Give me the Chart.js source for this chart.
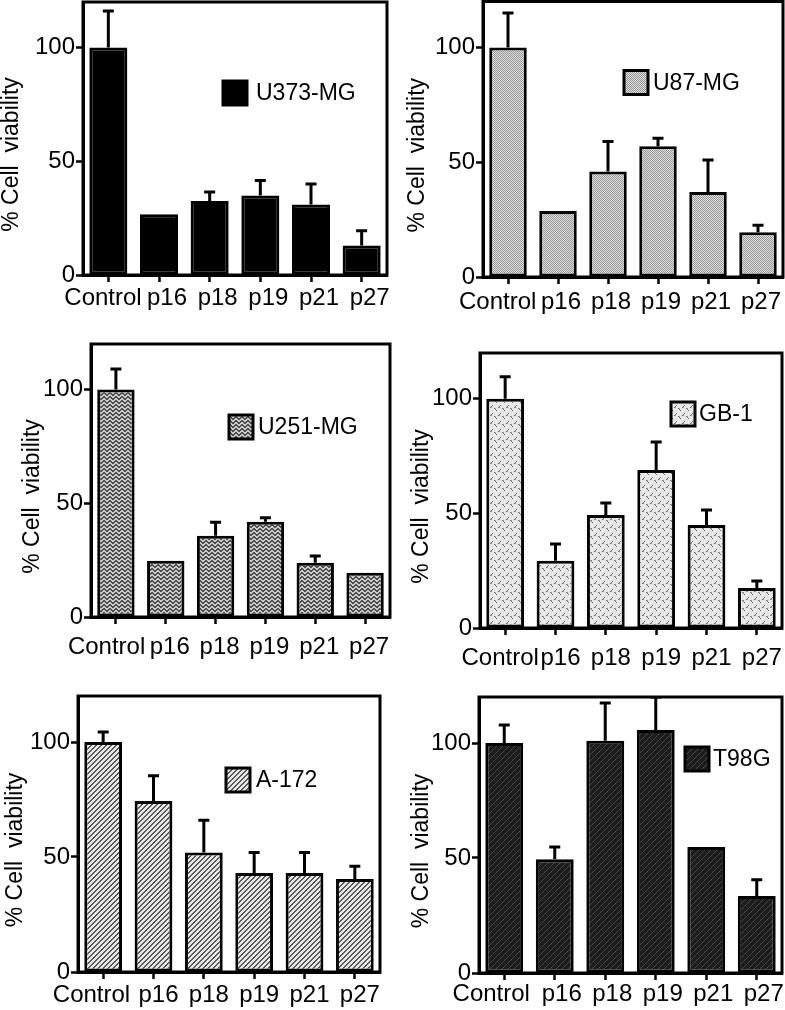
<!DOCTYPE html>
<html>
<head>
<meta charset="utf-8">
<script src="https://cdn.jsdelivr.net/npm/chart.js@4.4.1/dist/chart.umd.min.js"></script>
<style>
  body { margin: 0; background: #fff; width: 785px; height: 1010px; position: relative; overflow: hidden; }
  canvas { position: absolute; }
</style>
</head>
<body>
<canvas id="c1" width="390" height="320" style="left:0;top:0"></canvas>
<canvas id="c2" width="395" height="320" style="left:390px;top:0"></canvas>
<canvas id="c3" width="392" height="345" style="left:0;top:320px"></canvas>
<canvas id="c4" width="395" height="350" style="left:390px;top:320px"></canvas>
<canvas id="c5" width="390" height="350" style="left:0;top:660px"></canvas>
<canvas id="c6" width="395" height="350" style="left:390px;top:660px"></canvas>
<script>
// data (mean and SD, % of control)
const categories = ['Control', 'p16', 'p18', 'p19', 'p21', 'p27'];
const yTitle = '% Cell  viability';

const u373Values = [100, 26.7, 32.5, 35, 31, 13];
const u373Sd     = [16, null, 4, 6.5, 9, 6.5];
const u87Values  = [100, 28.7, 46, 57, 37, 19.5];
const u87Sd      = [15, null, 13, 3.4, 14, 3];
const u251Values = [100, 24.7, 35.7, 41.9, 23.8, 19.4];
const u251Sd     = [9, null, 6, 1.7, 3, null];
const gb1Values  = [100, 29.3, 49.3, 69, 45, 17.5];
const gb1Sd      = [9.6, 7.4, 5.3, 12.2, 6.5, 3];
const a172Values = [100, 74.3, 52, 43, 43, 40.4];
const a172Sd     = [4.3, 11, 14, 9, 9, 5.6];
const t98gValues = [100, 49.5, 101, 105.6, 54.8, 33.5];
const t98gSd     = [7.8, 5.3, 16.4, 14.4, null, 7];

const FONT = '"Liberation Sans", Arial, Helvetica, sans-serif';

// fill patterns
function tile(w, h, draw) {
    const c = document.createElement('canvas');
    c.width = w; c.height = h;
    const g = c.getContext('2d');
    draw(g);
    return g.createPattern(c, 'repeat');
}
const dots = tile(2, 2, g => {
    g.fillStyle = '#dedede'; g.fillRect(0, 0, 2, 2);
    g.fillStyle = '#969696'; g.fillRect(0, 0, 1, 1); g.fillRect(1, 1, 1, 1);
});
const waves = tile(6, 4, g => {
    g.fillStyle = '#cacaca'; g.fillRect(0, 0, 6, 4);
    g.fillStyle = '#4e4e4e';
    [1, 0, 0, 1, 2, 2].forEach((y, x) => g.fillRect(x, y, 1, 2));
});
const dashes = tile(8, 8, g => {
    g.fillStyle = '#e8e8e8'; g.fillRect(0, 0, 8, 8);
    g.fillStyle = '#6e6e6e';
    g.fillRect(0, 0, 1, 1); g.fillRect(1, 1, 1, 1); g.fillRect(2, 2, 1, 1);
    g.fillRect(4, 7, 1, 1); g.fillRect(5, 6, 1, 1); g.fillRect(6, 5, 1, 1);
    g.fillStyle = '#a8a8a8';
    g.fillRect(1, 0, 1, 1); g.fillRect(5, 7, 1, 1);
});
const hatch = tile(5, 5, g => {
    g.fillStyle = '#e8e8e8'; g.fillRect(0, 0, 5, 5);
    g.fillStyle = '#5a5a5a';
    for (let x = 0; x < 5; x++) for (let y = 0; y < 5; y++)
        if ((x + y) % 5 < 2) g.fillRect(x, y, 1, 1);
});
const darkHatch = tile(6, 6, g => {
    g.fillStyle = '#1c1c1c'; g.fillRect(0, 0, 6, 6);
    g.fillStyle = '#474747';
    for (let x = 0; x < 6; x++) for (let y = 0; y < 6; y++)
        if ((x + y) % 6 === 0) g.fillRect(x, y, 1, 1);
});

// T-shaped error bars (upper SD only)
const errorBars = {
    id: 'errorBars',
    afterDatasetsDraw(chart) {
        const {ctx, chartArea} = chart;
        const ds = chart.data.datasets[0];
        const y = chart.scales.y;
        ctx.save();
        ctx.beginPath();
        ctx.rect(chartArea.left, chartArea.top, chartArea.right - chartArea.left, chartArea.bottom - chartArea.top);
        ctx.clip();
        ctx.strokeStyle = '#000';
        ctx.lineWidth = 3;
        chart.getDatasetMeta(0).data.forEach((bar, i) => {
            if (ds.sd[i] == null) return;
            const top = y.getPixelForValue(ds.data[i] + ds.sd[i]);
            ctx.beginPath();
            ctx.moveTo(bar.x, bar.y);
            ctx.lineTo(bar.x, top);
            ctx.moveTo(bar.x - 5.5, top);
            ctx.lineTo(bar.x + 5.5, top);
            ctx.stroke();
        });
        ctx.restore();
    }
};

// box round the plot + the little key inside it
const frameAndKey = {
    id: 'frameAndKey',
    afterDraw(chart, args, opts) {
        const {ctx, chartArea: a} = chart;
        const ds = chart.data.datasets[0];
        ctx.save();
        ctx.strokeStyle = '#000';
        ctx.lineWidth = 3;
        ctx.strokeRect(a.left, a.top, a.right - a.left, a.bottom - a.top);
        const bx = a.left + opts.x, by = a.top + opts.y, s = 24;
        ctx.fillStyle = ds.backgroundColor;
        ctx.fillRect(bx, by, s, s);
        ctx.strokeRect(bx, by, s, s);
        ctx.fillStyle = '#000';
        ctx.font = '23px ' + FONT;
        ctx.textBaseline = 'middle';
        ctx.fillText(ds.label, bx + s + opts.gap, by + s / 2 + 1);
        ctx.restore();
    }
};

function makeChart(id, label, values, sd, fill, L) {
    const font = {family: FONT, size: 24};
    return new Chart(document.getElementById(id), {
        type: 'bar',
        data: {
            labels: categories,
            datasets: [{
                label: label,
                data: values,
                sd: sd,
                backgroundColor: fill,
                borderColor: '#000',
                borderWidth: 3,
                borderSkipped: false,
                barPercentage: 0.75,
                categoryPercentage: 1
            }]
        },
        options: {
            responsive: false,
            animation: false,
            devicePixelRatio: 1,
            events: [],
            layout: {padding: {left: 0, top: L.pt, right: L.pr, bottom: 0}},
            scales: {
                x: {
                    afterFit: s => { s.height = L.xh; s.paddingLeft = 0; s.paddingRight = 0; },
                    border: {display: true, width: 3, color: '#000'},
                    grid: {display: true, offset: false, drawOnChartArea: false, tickLength: 7, tickWidth: 2.5, tickColor: '#000'},
                    ticks: {
                        autoSkip: false, maxRotation: 0, minRotation: 0,
                        color: '#000', font: font, padding: L.xp, labelOffset: L.lo,
                        // first label sits a little left of its tick in the figure
                        callback: function (v, i) {
                            const t = this.getLabelForValue(v);
                            return i === 0 ? t + ' '.repeat(L.cs) : t;
                        }
                    }
                },
                y: {
                    min: 0,
                    max: 120,
                    afterFit: s => { s.width = L.yw; s.paddingTop = 0; s.paddingBottom = 0; },
                    border: {display: true, width: 3, color: '#000'},
                    grid: {display: true, drawOnChartArea: false, tickLength: 7, tickWidth: 2.5, tickColor: '#000'},
                    ticks: {stepSize: 50, includeBounds: false, color: '#000', font: font, padding: 1},
                    title: {
                        display: true,
                        text: yTitle + '     ',
                        color: '#000',
                        font: {family: FONT, size: 23, lineHeight: 1},
                        padding: {top: L.tp, bottom: 0}
                    }
                }
            },
            plugins: {
                legend: {display: false},
                tooltip: {enabled: false},
                frameAndKey: {x: L.kx, y: L.ky, gap: L.kg}
            }
        },
        plugins: [errorBars, frameAndKey]
    });
}

makeChart('c1', 'U373-MG', u373Values, u373Sd, '#000',
    {yw: 83, pt: 2, pr: 3, xh: 45, xp: 2, lo: 8, cs: 4, tp: 0.5, kx: 140, ky: 79, kg: 9});
makeChart('c2', 'U87-MG', u87Values, u87Sd, dots,
    {yw: 93, pt: 1.5, pr: 2, xh: 43, xp: 4, lo: 3, cs: 4, tp: 16, kx: 141, ky: 69, kg: 5});
makeChart('c3', 'U251-MG', u251Values, u251Sd, waves,
    {yw: 91, pt: 24, pr: 2, xh: 48, xp: 9, lo: 4, cs: 4, tp: 21, kx: 138, ky: 71, kg: 5});
makeChart('c4', 'GB-1', gb1Values, gb1Sd, dashes,
    {yw: 90, pt: 33, pr: 3, xh: 42, xp: 9, lo: 5, cs: 3, tp: 20.5, kx: 191, ky: 49, kg: 4});
makeChart('c5', 'A-172', a172Values, a172Sd, hatch,
    {yw: 78, pt: 36, pr: 10, xh: 38, xp: 2, lo: 5, cs: 5, tp: 4.5, kx: 148, ky: 72, kg: 6});
makeChart('c6', 'T98G', t98gValues, t98gSd, darkHatch,
    {yw: 89, pt: 37, pr: 3, xh: 37, xp: 0, lo: 7, cs: 6, tp: 20.5, kx: 206, ky: 50, kg: 4});
</script>
</body>
</html>
